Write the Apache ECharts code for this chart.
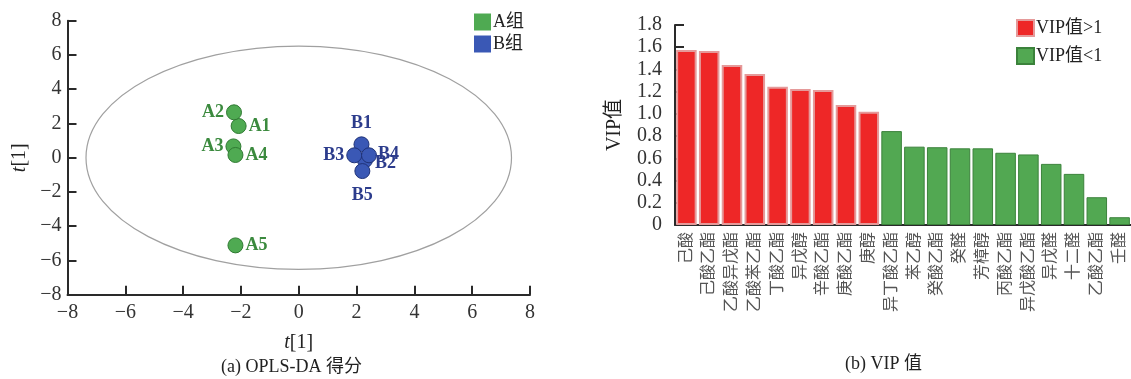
<!DOCTYPE html>
<html>
<head>
<meta charset="utf-8">
<script src="https://cdn.jsdelivr.net/npm/echarts@6/dist/echarts.min.js"></script>
<style>
html,body{margin:0;padding:0;background:#fff;}
#chart{width:1131px;height:379px;}
</style>
</head>
<body>
<div id="chart"></div>
<script>
// ---- Data: OPLS-DA scores ----
var groupA = [
  ['A1', -2.08, 1.85],
  ['A2', -2.24, 2.65],
  ['A3', -2.26, 0.66],
  ['A4', -2.19, 0.16],
  ['A5', -2.19, -5.12]
];
var groupB = [
  ['B1', 2.17, 0.78],
  ['B2', 2.29, -0.15],
  ['B3', 1.92, 0.14],
  ['B4', 2.43, 0.14],
  ['B5', 2.20, -0.78]
];
// Hotelling ellipse: [cx, cy, rx, ry]
var ellipseParams = [0, 0, 7.36, 6.52];
var scoreTicks = [-8, -6, -4, -2, 0, 2, 4, 6, 8];

// ---- Data: VIP values ----
var compounds = ['己酸','己酸乙酯','乙酸异戊酯','乙酸苯乙酯','丁酸乙酯','异戊醇','辛酸乙酯','庚酸乙酯','庚醇',
  '异丁酸乙酯','苯乙醇','癸酸乙酯','癸醛','芳樟醇','丙酸乙酯','异戊酸乙酯','异戊醛','十二醛','乙酸乙酯','壬醛'];
var vipHigh = [1.575, 1.565, 1.44, 1.36, 1.245, 1.225, 1.215, 1.08, 1.02];
var vipLow = [0.845, 0.705, 0.70, 0.69, 0.69, 0.65, 0.635, 0.55, 0.46, 0.25, 0.07];
var vipTicks = [0, 0.2, 0.4, 0.6, 0.8, 1.0, 1.2, 1.4, 1.6, 1.8];

var labelPos = {
  A1: ['right', 2], A2: ['left', 2], A3: ['left', 2], A4: ['right', 2], A5: ['right', 2],
  B1: ['top', 4], B2: ['right', 2], B3: ['left', 2], B4: ['right', 1], B5: ['bottom', 7]
};
var labelOffset = { B2: [0, 3], B4: [0, -1] };

var serif = "'Liberation Serif','Times New Roman',serif";
var cjkSerif = "'Liberation Serif','Noto Sans CJK SC',serif";

function minus(v) { return String(v).replace('-', '\u2212'); }

function scatterData(arr, labelColor) {
  return arr.map(function (d) {
    var p = labelPos[d[0]];
    return {
      name: d[0],
      value: [d[1], d[2]],
      label: {
        show: true, formatter: d[0], position: p[0], distance: p[1],
        offset: labelOffset[d[0]] || [0, 0],
        color: labelColor, fontFamily: serif, fontWeight: 'bold', fontSize: 18
      }
    };
  });
}

var redSeries = compounds.map(function (c, i) { return i < vipHigh.length ? vipHigh[i] : '-'; });
var greenSeries = compounds.map(function (c, i) { return i >= vipHigh.length ? vipLow[i - vipHigh.length] : '-'; });

var chart = echarts.init(document.getElementById('chart'), null, { renderer: 'canvas' });
var axisColor = '#2a2a2a';

var option = {
  animation: false,
  backgroundColor: '#fff',
  grid: [
    { left: 67.5, top: 20.7, width: 462.5, height: 274 },
    { left: 675, top: 25, right: 0, bottom: 154 }
  ],
  legend: [
    {
      data: ['A组', 'B组'], orient: 'vertical', left: 469, top: 8,
      icon: 'rect', itemWidth: 17, itemHeight: 17, itemGap: 4,
      itemStyle: { borderWidth: 0 },
      textStyle: { fontFamily: cjkSerif, fontSize: 18, color: '#222', padding: [0, 0, 0, -3] }
    },
    {
      data: ['VIP值>1', 'VIP值<1'], orient: 'vertical', left: 1011, top: 14,
      icon: 'rect', itemWidth: 17, itemHeight: 16, itemGap: 10,
      textStyle: { fontFamily: cjkSerif, fontSize: 18, color: '#222', padding: [0, 0, 0, -3] }
    }
  ],
  xAxis: [
    {
      gridIndex: 0, type: 'value', min: -8, max: 8, interval: 2,
      name: '{i|t}[1]', nameLocation: 'middle', nameGap: 38,
      nameTextStyle: { fontFamily: serif, fontSize: 20, color: '#222', rich: { i: { fontStyle: 'italic', fontFamily: serif, fontSize: 20, color: '#222' } } },
      axisLine: { show: true, onZero: false, lineStyle: { color: axisColor, width: 2 } },
      axisTick: { show: true, inside: true, length: 9, lineStyle: { color: axisColor, width: 2 } },
      axisLabel: { fontFamily: serif, fontSize: 20, color: '#333', margin: 8, formatter: minus },
      splitLine: { show: false }
    },
    {
      gridIndex: 1, type: 'category', data: compounds,
      axisLine: { show: true, lineStyle: { color: axisColor, width: 2 } },
      axisTick: { show: false },
      axisLabel: { rotate: 90, interval: 0, fontFamily: cjkSerif, fontSize: 16, color: '#555', margin: 7 }
    }
  ],
  yAxis: [
    {
      gridIndex: 0, type: 'value', min: -8, max: 8, interval: 2,
      name: '{i|t}[1]', nameLocation: 'middle', nameGap: 38,
      nameTextStyle: { fontFamily: serif, fontSize: 20, color: '#222', rich: { i: { fontStyle: 'italic', fontFamily: serif, fontSize: 20, color: '#222' } } },
      axisLine: { show: true, onZero: false, lineStyle: { color: axisColor, width: 2 } },
      axisTick: { show: true, inside: true, length: 9, lineStyle: { color: axisColor, width: 2 } },
      axisLabel: { fontFamily: serif, fontSize: 20, color: '#333', margin: 6, formatter: minus },
      splitLine: { show: false }
    },
    {
      gridIndex: 1, type: 'value', min: 0, max: 1.8, interval: 0.2,
      name: 'VIP值', nameLocation: 'middle', nameGap: 50,
      nameTextStyle: { fontFamily: cjkSerif, fontSize: 20, color: '#222' },
      axisLine: { show: true, lineStyle: { color: axisColor, width: 2 } },
      axisTick: { show: true, inside: true, length: 9, lineStyle: { color: axisColor, width: 2 } },
      axisLabel: {
        fontFamily: serif, fontSize: 20, color: '#333', margin: 13,
        formatter: function (v) { return v === 0 ? '0' : v.toFixed(1); }
      },
      splitLine: { show: false }
    }
  ],
  series: [
    {
      type: 'custom', xAxisIndex: 0, yAxisIndex: 0, silent: true, z: 1,
      data: [ellipseParams],
      renderItem: function (params, api) {
        var c = api.coord([api.value(0), api.value(1)]);
        var s = api.size([api.value(2), api.value(3)]);
        return {
          type: 'ellipse',
          shape: { cx: c[0], cy: c[1], rx: s[0], ry: s[1] },
          style: { fill: 'none', stroke: '#a0a0a0', lineWidth: 1.2 }
        };
      }
    },
    {
      name: 'A组', type: 'scatter', xAxisIndex: 0, yAxisIndex: 0, symbolSize: 15, z: 3,
      itemStyle: { color: '#4faa52', borderColor: '#2f7a32', borderWidth: 1, opacity: 1 },
      data: scatterData(groupA, '#3b8a3e')
    },
    {
      name: 'B组', type: 'scatter', xAxisIndex: 0, yAxisIndex: 0, symbolSize: 15, z: 3,
      itemStyle: { color: '#3a58b5', borderColor: '#1f3278', borderWidth: 1, opacity: 1 },
      data: scatterData(groupB, '#2c3c8c')
    },
    {
      name: 'VIP值>1', type: 'bar', xAxisIndex: 1, yAxisIndex: 1, stack: 'vip',
      barCategoryGap: '10%',
      itemStyle: { color: '#ee2727', borderColor: '#e59a9a', borderWidth: 2 },
      data: redSeries
    },
    {
      name: 'VIP值<1', type: 'bar', xAxisIndex: 1, yAxisIndex: 1, stack: 'vip',
      barCategoryGap: '10%',
      itemStyle: { color: '#52a852', borderColor: '#3b823b', borderWidth: 1 },
      data: greenSeries
    }
  ],
  graphic: [
    { type: 'text', left: 221, top: 358, style: { text: '(a) OPLS-DA 得分', font: "18px 'Liberation Serif','Noto Sans CJK SC',serif", fill: '#222' } },
    { type: 'text', left: 845, top: 355, style: { text: '(b) VIP 值', font: "18px 'Liberation Serif','Noto Sans CJK SC',serif", fill: '#222' } }
  ]
};
chart.setOption(option);
</script>
</body>
</html>
